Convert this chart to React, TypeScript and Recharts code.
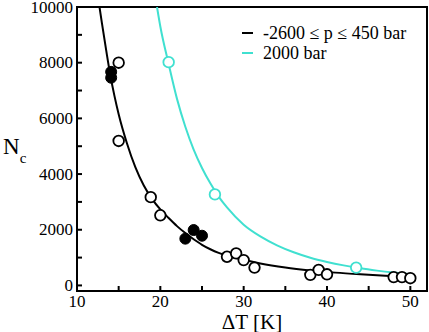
import React from "react";
import {
  ComposedChart,
  Line,
  Scatter,
  XAxis,
  YAxis,
  ReferenceArea,
} from "recharts";

// ---- data ----
const blackOpenX = [15.0, 15.0, 18.85, 20.0, 28.0, 29.1, 30.0, 31.3, 38.0, 39.0, 40.0, 48.0, 49.0, 50.0];
const blackOpenY = [8000, 5190, 3170, 2520, 1030, 1150, 910, 640, 380, 560, 400, 300, 300, 260];

const blackFilledX = [14.1, 14.1, 23.0, 24.0, 25.0];
const blackFilledY = [7670, 7460, 1680, 1990, 1785];

const cyanOpenX = [21.0, 26.55, 43.5];
const cyanOpenY = [8020, 3270, 640];

const blackCurveX = [12.7, 13, 13.5, 14, 14.5, 15, 16, 17, 18, 19, 20, 21, 22, 23, 24, 25, 26, 27, 28, 30, 32, 35, 38, 41, 44, 47, 50];
const blackCurveY = [10000, 9400, 8450, 7550, 6800, 6150, 5100, 4250, 3600, 3110, 2730, 2420, 2130, 1880, 1660, 1460, 1300, 1170, 1070, 920, 790, 645, 540, 460, 400, 350, 310];

const cyanCurveX = [19.6, 20, 21, 22, 23, 24, 25, 26, 27, 28, 30, 32, 34, 36, 38, 40, 42, 44, 46, 48, 50];
const cyanCurveY = [10000, 9300, 7950, 6700, 5700, 4880, 4220, 3670, 3190, 2800, 2180, 1760, 1440, 1190, 995, 845, 720, 615, 532, 463, 405];

const xTicks = [10, 15, 20, 25, 30, 35, 40, 45, 50];
const xLabelTicks = [10, 20, 30, 40, 50];
const yTicks = [0, 1000, 2000, 3000, 4000, 5000, 6000, 7000, 8000, 9000, 10000];
const yLabelTicks = [0, 2000, 4000, 6000, 8000, 10000];

const seriesNames = ["-2600 \u2264 p \u2264 450 bar", "2000 bar"];

const zip = (xs: number[], ys: number[]) => xs.map((x, i) => ({ x, y: ys[i] }));

const blackOpen = zip(blackOpenX, blackOpenY);
const blackFilled = zip(blackFilledX, blackFilledY);
const cyanOpen = zip(cyanOpenX, cyanOpenY);
const blackCurve = zip(blackCurveX, blackCurveY);
const cyanCurve = zip(cyanCurveX, cyanCurveY);

const BLACK = "#000000";
const CYAN = "#40e0d0";
const FONT = "Liberation Serif, Times New Roman, serif";
const TICK_LEN = 5;

const OpenCircle = (color: string) => (props: any) => {
  const { cx, cy } = props;
  if (cx == null || cy == null) return <g />;
  return <circle cx={cx} cy={cy} r={5.3} fill="#ffffff" stroke={color} strokeWidth={1.8} />;
};
const FilledCircle = (props: any) => {
  const { cx, cy } = props;
  if (cx == null || cy == null) return <g />;
  return <circle cx={cx} cy={cy} r={5.5} fill={BLACK} stroke={BLACK} strokeWidth={1} />;
};

// tick renderers: with tickSize=0 and tickMargin=0 the (x,y) handed in lies on the axis line
const BottomTick = (props: any) => {
  const { x, y, payload } = props;
  return (
    <g>
      <line x1={x} y1={y} x2={x} y2={y - TICK_LEN} stroke={BLACK} strokeWidth={2} />
      {xLabelTicks.includes(payload.value) && (
        <text x={x} y={y + 15.5} textAnchor="middle" fontFamily={FONT} fontSize={17} fill="#000">
          {payload.value}
        </text>
      )}
    </g>
  );
};
const TopTick = (props: any) => {
  const { x, y } = props;
  return <line x1={x} y1={y} x2={x} y2={y + TICK_LEN} stroke={BLACK} strokeWidth={2} />;
};
const LeftTick = (props: any) => {
  const { x, y, payload } = props;
  return (
    <g>
      <line x1={x} y1={y} x2={x + TICK_LEN} y2={y} stroke={BLACK} strokeWidth={2} />
      {yLabelTicks.includes(payload.value) && (
        <text x={x - 4} y={y + 5.5} textAnchor="end" fontFamily={FONT} fontSize={17} fill="#000">
          {payload.value}
        </text>
      )}
    </g>
  );
};
const RightTick = (props: any) => {
  const { x, y } = props;
  return <line x1={x} y1={y} x2={x - TICK_LEN} y2={y} stroke={BLACK} strokeWidth={2} />;
};

const LegendBox = () => (
  <div
    style={{
      position: "absolute",
      left: 242,
      top: 23,
      fontFamily: FONT,
      fontSize: 18,
      color: "#000",
      lineHeight: "20px",
    }}
  >
    {[BLACK, CYAN].map((c, i) => (
      <div key={i} style={{ display: "flex", alignItems: "center", whiteSpace: "nowrap" }}>
        <span style={{ display: "inline-block", width: 11, height: 2, background: c, marginRight: 10 }} />
        <span>{seriesNames[i]}</span>
      </div>
    ))}
  </div>
);

export default function App() {
  return (
    <div style={{ position: "absolute", left: 0, top: 0, width: 429, height: 332, background: "#fff" }}>
      <ComposedChart width={429} height={332} margin={{ top: 7, right: 2, left: 0, bottom: 0 }}>
        <XAxis
          xAxisId="b"
          dataKey="x"
          type="number"
          domain={[10, 52]}
          allowDataOverflow
          ticks={xTicks}
          interval={0}
          height={41}
          tickSize={0}
          tickMargin={0}
          tick={<BottomTick />}
          tickLine={false}
          axisLine={{ stroke: BLACK, strokeWidth: 2 }}
          label={{
            content: (p: any) => {
              const vb = p.viewBox;
              return (
                <text x={vb.x + vb.width / 2} y={vb.y + 37.5} textAnchor="middle" fontFamily={FONT} fontSize={21} fill="#000">
                  {"\u0394T [K]"}
                </text>
              );
            },
          }}
        />
        <XAxis
          xAxisId="t"
          orientation="top"
          dataKey="x"
          type="number"
          domain={[10, 52]}
          allowDataOverflow
          ticks={xTicks}
          interval={0}
          height={0}
          tickSize={0}
          tickMargin={0}
          tick={<TopTick />}
          tickLine={false}
          axisLine={{ stroke: BLACK, strokeWidth: 2 }}
        />
        <YAxis
          yAxisId="l"
          type="number"
          domain={[-200, 10000]}
          allowDataOverflow
          ticks={yTicks}
          interval={0}
          width={77}
          tickSize={0}
          tickMargin={0}
          tick={<LeftTick />}
          tickLine={false}
          axisLine={{ stroke: BLACK, strokeWidth: 2 }}
          label={{
            content: (p: any) => {
              const vb = p.viewBox;
              return (
                <text x={vb.x + 3} y={vb.y + vb.height / 2 + 5} fontFamily={FONT} fontSize={23} fill="#000">
                  N
                  <tspan fontSize={15} dy={9}>c</tspan>
                </text>
              );
            },
          }}
        />
        <YAxis
          yAxisId="r"
          orientation="right"
          type="number"
          domain={[-200, 10000]}
          allowDataOverflow
          ticks={yTicks}
          interval={0}
          width={0}
          tickSize={0}
          tickMargin={0}
          tick={<RightTick />}
          tickLine={false}
          axisLine={{ stroke: BLACK, strokeWidth: 2 }}
        />
        <ReferenceArea
          xAxisId="b"
          yAxisId="l"
          x1={10}
          x2={52}
          y1={-200}
          y2={10000}
          fill="none"
          fillOpacity={0}
          stroke={BLACK}
          strokeWidth={2}
          ifOverflow="visible"
        />
        <Line
          xAxisId="b"
          yAxisId="l"
          data={cyanCurve}
          dataKey="y"
          type="monotone"
          stroke={CYAN}
          strokeWidth={2}
          dot={false}
          activeDot={false}
          isAnimationActive={false}
        />
        <Line
          xAxisId="b"
          yAxisId="l"
          data={blackCurve}
          dataKey="y"
          type="monotone"
          stroke={BLACK}
          strokeWidth={2}
          dot={false}
          activeDot={false}
          isAnimationActive={false}
        />
        <Scatter xAxisId="b" yAxisId="l" data={cyanOpen} dataKey="y" shape={OpenCircle(CYAN)} isAnimationActive={false} />
        <Scatter xAxisId="b" yAxisId="l" data={blackOpen} dataKey="y" shape={OpenCircle(BLACK)} isAnimationActive={false} />
        <Scatter xAxisId="b" yAxisId="l" data={blackFilled} dataKey="y" shape={FilledCircle} isAnimationActive={false} />
      </ComposedChart>
      <LegendBox />
    </div>
  );
}
